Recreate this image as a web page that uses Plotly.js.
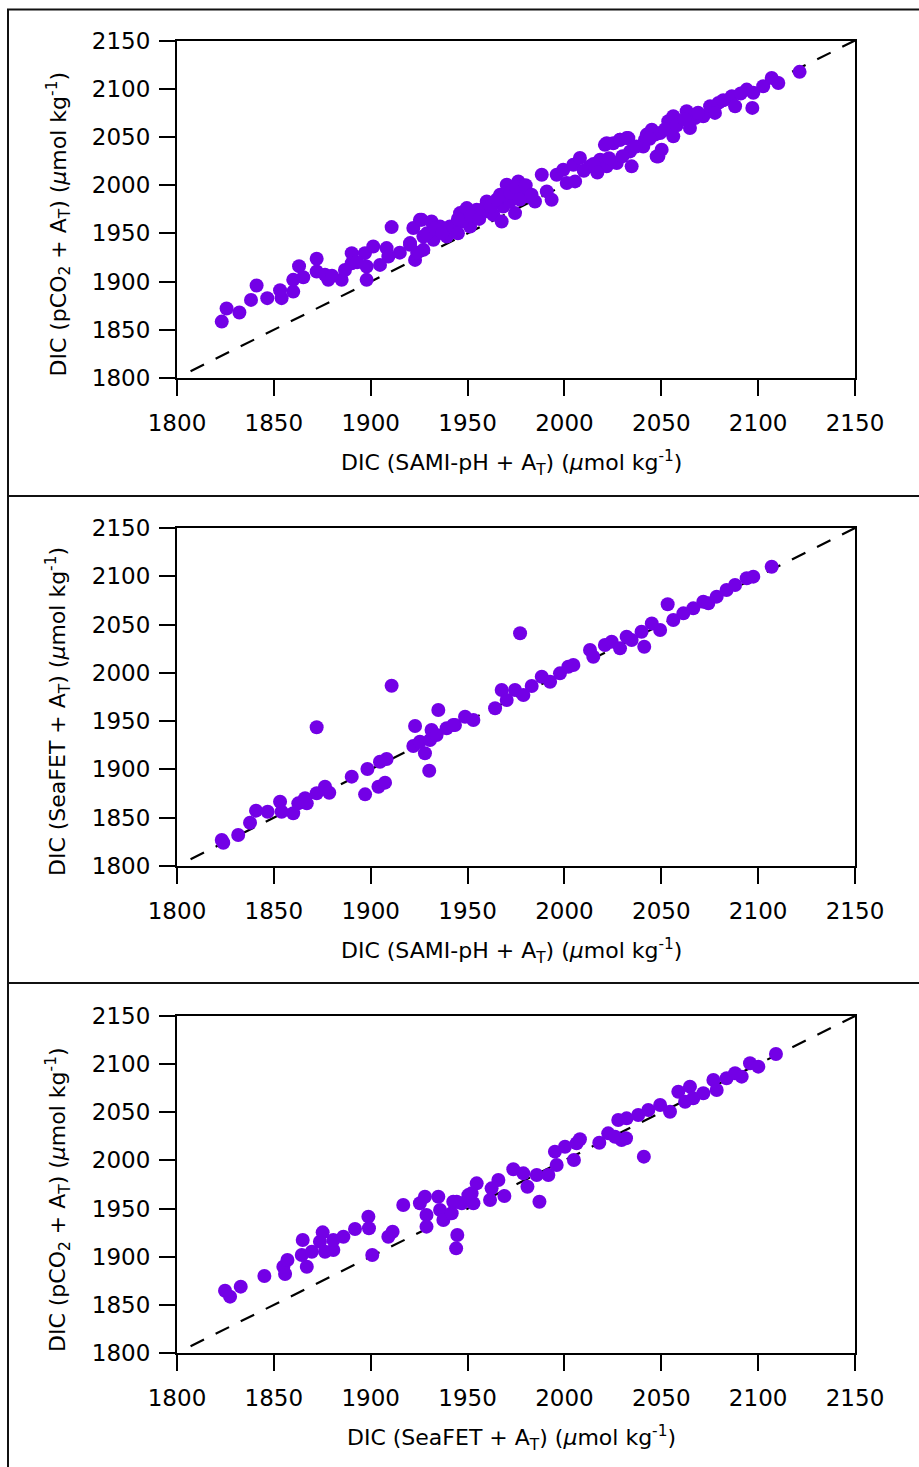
<!DOCTYPE html>
<html>
<head>
<meta charset="utf-8">
<script src="https://cdn.plot.ly/plotly-3.0.1.min.js"></script>
<style>html,body{margin:0;padding:0;background:#fff;}#chart{width:919px;height:1467px;}</style>
</head>
<body>
<div id="chart"></div>
<script>
// Panel 1: DIC (SAMI-pH + AT) vs DIC (pCO2 + AT)
const samiPh_p1 = [1823.1,1825.6,1832.2,1838.2,1841.1,1846.6,1854.0,1853.2,1860.0,1860.0,1863.0,1865.2,1872.1,1872.1,1878.1,1876.4,1885.0,1886.7,1890.2,1890.2,1897.9,1897.9,1897.0,1901.3,1908.2,1904.8,1909.1,1910.8,1920.3,1922.0,1922.9,1925.4,1927.2,
  1920.3,1926.3,1931.4,1927.2,1932.4,1935.8,1939.3,1940.9,1946.1,1949.6,1954.7,1951.3,1947.0,1959.9,1960.7,1963.3,1967.6,1968.4,1966.8,1970.2,1976.2,1973.6,1974.5,1971.9,1978.8,1981.4,1984.8,1988.3,1990.9,1993.4,1996.0,1999.4,2001.2,2004.6,2008.0,2005.5,2013.2,2018.4,2021.8,2020.9,2025.2,2028.7,2032.1,2033.9,2034.7,2027.0,2041.6,2046.8,2047.6,
  2021.8,2028.7,2033.0,2040.7,2042.5,2045.1,2049.4,2048.5,2050.2,2053.6,2056.2,2056.2,2063.1,2064.8,2067.4,2071.7,2075.2,2079.5,2077.7,2086.4,2088.1,2094.1,2097.5,2097.0,2102.6,2107.0,2110.4,2121.4,
  1924.0,1929.0,1933.0,1937.0,1943.0,1945.0,1952.0,1956.0,1958.0,1962.0,1965.0,1969.0,1972.0,1975.0,1977.0,1980.0,1983.0,2010.0,2015.0,2017.0,2023.0,2030.0,2037.0,2044.0,2052.0,2058.0,2062.0,2069.0,2082.0,2091.0,1880.0,1893.0,1915.0,1945.0];
const pco2_p1 = [1858.5,1872.0,1868.0,1881.0,1895.9,1882.8,1882.8,1891.0,1889.6,1901.8,1916.0,1904.5,1923.6,1910.4,1901.8,1907.0,1901.8,1912.0,1929.5,1919.0,1901.8,1915.6,1929.5,1936.4,1934.7,1917.3,1926.0,1956.5,1939.9,1955.5,1922.5,1964.0,1946.7,
  1938.1,1964.0,1962.3,1932.9,1943.3,1957.1,1946.7,1957.1,1971.0,1976.2,1974.5,1957.1,1962.3,1983.1,1972.7,1969.3,1962.3,1977.9,1990.0,2000.4,2003.9,1995.2,1971.0,1983.1,1995.2,1988.3,1983.1,2010.8,1993.5,1984.9,2010.8,2016.0,2002.2,2021.2,2028.1,2003.9,2019.5,2026.4,2019.5,2041.8,2043.5,2047.0,2048.8,2035.0,2019.5,2023.0,2047.0,2052.4,2029.8,
  2043.5,2047.0,2048.8,2040.1,2052.4,2057.5,2054.1,2029.8,2036.8,2066.2,2071.4,2050.6,2076.6,2059.3,2069.7,2071.4,2081.8,2085.3,2074.9,2092.2,2081.8,2099.1,2095.7,2080.1,2102.6,2111.2,2106.0,2117.5,
  1930.0,1950.0,1955.0,1950.0,1955.0,1965.0,1968.0,1965.0,1975.0,1978.0,1985.0,1990.0,1992.0,1998.0,1985.0,2000.0,1990.0,2015.0,2022.0,2013.0,2028.0,2030.0,2040.0,2048.0,2058.0,2062.0,2068.0,2075.0,2088.0,2095.0,1906.0,1920.0,1930.0,1950.0];

// Panel 2: DIC (SAMI-pH + AT) vs DIC (SeaFET + AT)
const samiPh_p2 = [1823.1,1823.9,1831.6,1837.7,1840.8,1846.8,1853.2,1854.0,1860.0,1862.6,1866.1,1867.0,1872.1,1872.1,1876.4,1878.6,1890.2,1897.1,1898.3,1904.0,1907.4,1904.8,1908.2,1910.8,1922.9,1922.0,1925.4,1928.0,1930.2,1930.6,1931.4,1934.9,1934.0,1939.2,1943.5,1948.7,
  1942.6,1953.0,1977.1,1964.2,1967.6,1970.2,1974.5,1978.8,1983.1,1988.3,1992.6,1997.7,2002.0,2004.6,2013.2,2014.9,2020.9,2024.4,2028.7,2032.1,2034.7,2039.8,2041.2,2045.1,2049.4,2053.3,2056.2,2061.4,2066.5,2071.7,2074.3,2078.6,2083.7,2088.1,2094.1,2097.5,2107.0];
const seafet_p2 = [1826.9,1824.1,1832.1,1844.8,1857.3,1856.2,1866.6,1856.2,1854.6,1864.9,1870.1,1864.9,1875.3,1943.6,1882.1,1875.9,1892.5,1874.2,1900.5,1882.1,1886.3,1907.9,1910.8,1986.7,1945.0,1924.3,1928.7,1916.7,1898.7,1930.5,1940.8,1961.5,1935.7,1942.6,1946.0,1954.6,
  1946.0,1951.2,2041.0,1963.3,1982.3,1971.9,1982.3,1977.1,1986.4,1996.0,1990.8,1999.5,2006.4,2008.1,2023.7,2016.7,2028.8,2032.3,2025.4,2037.4,2034.0,2042.6,2027.1,2051.2,2044.4,2071.0,2054.7,2061.6,2066.8,2073.7,2072.0,2078.9,2085.8,2091.0,2097.9,2099.6,2109.9];

// Panel 3: DIC (SeaFET + AT) vs DIC (pCO2 + AT)
const seafet_p3 = [1824.8,1827.4,1832.9,1845.1,1855.8,1854.9,1857.0,1864.9,1864.4,1867.0,1869.6,1873.8,1875.2,1876.4,1880.7,1880.7,1885.9,1891.9,1898.8,1899.1,1900.8,1909.1,1911.3,1916.8,1925.4,1928.0,1928.8,1928.8,1934.9,1935.8,1937.5,1941.8,1944.7,1944.1,1944.4,1947.0,1950.4,
  1942.6,1953.0,1954.7,1952.1,1962.4,1961.6,1965.9,1969.0,1973.6,1978.8,1980.9,1985.7,1987.1,1991.7,1996.0,1995.1,2000.3,2004.9,2006.3,2008.0,2018.0,2022.6,2026.1,2027.8,2029.5,2031.8,2032.1,2038.1,2041.0,2043.3,2049.4,2054.5,2058.8,2062.3,2064.8,2066.5,2071.7,2076.9,2078.6,2083.7,2088.1,2091.5,2095.8,2100.1,2109.2];
const pco2_p3 = [1864.7,1858.5,1868.9,1880.0,1882.0,1889.6,1896.6,1917.4,1901.8,1889.6,1905.2,1915.6,1925.3,1905.2,1907.0,1917.4,1920.8,1928.8,1941.6,1929.5,1901.8,1920.8,1926.0,1953.7,1955.5,1962.3,1943.3,1931.2,1962.3,1948.5,1938.1,1945.1,1922.5,1908.7,1957.1,1955.5,1964.0,
  1957.1,1955.5,1976.2,1965.8,1971.0,1958.9,1979.6,1963.0,1990.8,1986.6,1972.7,1984.9,1957.1,1984.9,1995.2,2009.1,2014.2,2000.4,2017.8,2022.0,2018.4,2028.1,2024.6,2042.0,2021.2,2023.0,2043.7,2047.2,2003.9,2052.4,2057.5,2050.6,2071.4,2061.0,2076.6,2064.5,2069.7,2083.5,2073.2,2085.3,2090.5,2087.0,2100.9,2097.4,2110.5];

const oneToOne = [1807, 2150];
const tickValues = [1800, 1850, 1900, 1950, 2000, 2050, 2100, 2150];

const titleMu = '(<i>\u03bc</i>mol kg<sup>-1</sup>)';
const xTitles = ['DIC (SAMI-pH + A<sub>T</sub>) ' + titleMu, 'DIC (SAMI-pH + A<sub>T</sub>) ' + titleMu, 'DIC (SeaFET + A<sub>T</sub>) ' + titleMu];
const yTitles = ['DIC (pCO<sub>2</sub> + A<sub>T</sub>) ' + titleMu, 'DIC (SeaFET + A<sub>T</sub>) ' + titleMu, 'DIC (pCO<sub>2</sub> + A<sub>T</sub>) ' + titleMu];

const W = 919, H = 1467;
const FONT = 'DejaVu Sans, sans-serif';
const purple = 'rgb(115,0,230)';
const xs = [samiPh_p1, samiPh_p2, seafet_p3];
const ys = [pco2_p1, seafet_p2, pco2_p3];
// pixel geometry of each panel's plot box (top, bottom)
const boxes = [[40.5, 378], [528, 866], [1016, 1353]];
const xLeft = 177, xRight = 855;

const traces = [];
const layout = {
  width: W, height: H,
  margin: {l: 0, r: 0, t: 0, b: 0},
  paper_bgcolor: '#fff', plot_bgcolor: '#fff',
  showlegend: false,
  font: {family: FONT, size: 22, color: '#000'},
  annotations: [], shapes: []
};

for (let i = 0; i < 3; i++) {
  const sfx = i === 0 ? '' : String(i + 1);
  traces.push({
    x: oneToOne, y: oneToOne, mode: 'lines', type: 'scatter',
    xaxis: 'x' + sfx, yaxis: 'y' + sfx,
    line: {color: '#000', width: 2.2, dash: '15px,13px'}, hoverinfo: 'skip'
  });
  traces.push({
    x: xs[i], y: ys[i], mode: 'markers', type: 'scatter',
    xaxis: 'x' + sfx, yaxis: 'y' + sfx,
    marker: {color: purple, size: 14, line: {width: 0}}
  });
  const [top, bot] = boxes[i];
  const axCommon = {
    range: [1800, 2150], tickvals: tickValues, ticktext: tickValues.map(String),
    showgrid: false, zeroline: false, showline: true, mirror: true,
    linecolor: '#000', linewidth: 2, ticks: 'outside', ticklen: 16, tickwidth: 2,
    tickcolor: '#000', tickfont: {family: FONT, size: 23, color: '#000'}, automargin: false
  };
  layout['xaxis' + sfx] = Object.assign({}, axCommon, {
    domain: [xLeft / W, xRight / W], anchor: 'y' + sfx, ticklabelstandoff: 7
  });
  layout['yaxis' + sfx] = Object.assign({}, axCommon, {
    domain: [1 - bot / H, 1 - top / H], anchor: 'x' + sfx, ticklabelstandoff: 4
  });
  layout.annotations.push({
    text: xTitles[i], xref: 'paper', yref: 'paper', showarrow: false,
    x: 511 / W, y: 1 - (bot + 85) / H, xanchor: 'center', yanchor: 'middle',
    font: {family: FONT, size: 22, color: '#000'}
  });
  layout.annotations.push({
    text: yTitles[i], xref: 'paper', yref: 'paper', showarrow: false, textangle: -90,
    x: 58 / W, y: 1 - (top + 184) / H, xanchor: 'center', yanchor: 'middle',
    font: {family: FONT, size: 22, color: '#000'}
  });
}

// outer frame and panel dividers
layout.shapes.push({type: 'rect', xref: 'paper', yref: 'paper',
  x0: 8 / W, x1: 930 / W, y0: 1 - 1480 / H, y1: 1 - 9.5 / H,
  line: {color: '#111', width: 2}});
[496, 983].forEach(py => layout.shapes.push({type: 'line', xref: 'paper', yref: 'paper',
  x0: 8 / W, x1: 930 / W, y0: 1 - py / H, y1: 1 - py / H, line: {color: '#111', width: 2}}));

Plotly.newPlot('chart', traces, layout, {staticPlot: true, displayModeBar: false});
</script>
</body>
</html>
